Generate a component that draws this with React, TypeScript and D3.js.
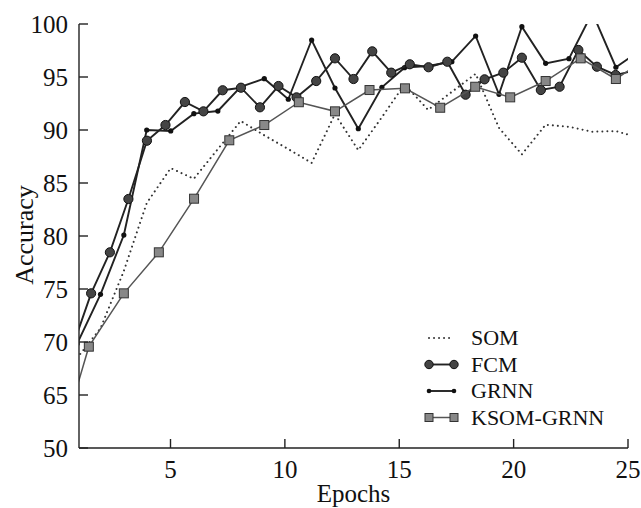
import React, { useEffect, useRef } from 'react';
import * as d3 from 'd3';

// values (epochs are fractional, points are not on integer epochs)
const fcmEpochs = [0.72, 1.53, 2.35, 3.16, 3.97, 4.78, 5.63, 6.44, 7.28, 8.08, 8.91, 9.72, 10.51, 11.37, 12.19, 13.0, 13.82, 14.65, 15.46, 16.28, 17.1, 17.9, 18.73, 19.55, 20.36, 21.19, 22.01, 22.83, 23.64, 24.46, 25.28];
const fcmAccuracy = [69.56, 74.59, 78.46, 83.49, 88.99, 90.47, 92.64, 91.76, 93.75, 93.99, 92.14, 94.15, 93.08, 94.62, 96.76, 94.81, 97.42, 95.41, 96.2, 95.92, 96.44, 93.33, 94.78, 95.41, 96.82, 93.77, 94.08, 97.55, 95.97, 95.19, 95.6];

const grnnEpochs = [0.92, 1.94, 2.96, 3.96, 5.01, 6.02, 7.07, 8.07, 9.1, 10.15, 11.17, 12.19, 13.21, 14.24, 15.23, 16.26, 17.3, 18.34, 19.36, 20.36, 21.4, 22.42, 23.44, 24.47, 25.49];
const grnnAccuracy = [69.84, 74.5, 80.09, 90.0, 89.91, 91.54, 91.79, 94.08, 94.84, 92.9, 98.49, 93.96, 90.12, 94.03, 95.88, 96.04, 96.44, 98.87, 93.37, 99.75, 96.29, 96.73, 101.07, 95.92, 97.45];

// SOM shares the GRNN epochs
const somAccuracy = [68.5, 71.3, 76.7, 83.1, 86.4, 85.4, 88.2, 90.85, 89.5, 88.2, 86.9, 91.5, 88.1, 91.2, 94.3, 91.9, 93.6, 95.3, 90.2, 87.7, 90.5, 90.3, 89.84, 89.9, 89.25];

const ksomEpochs = [0.76, 1.43, 2.96, 4.49, 6.03, 7.57, 9.1, 10.61, 12.19, 13.7, 15.25, 16.79, 18.32, 19.85, 21.4, 22.93, 24.47, 26.0];
const ksomAccuracy = [63.9, 69.56, 74.59, 78.46, 83.52, 89.03, 90.47, 92.62, 91.76, 93.77, 93.93, 92.1, 94.08, 93.08, 94.62, 96.76, 94.81, 97.0];

const xTicks = [5, 10, 15, 20, 25];
const yTicks = [50, 65, 70, 75, 80, 85, 90, 95, 100];
const legendLabels = ['SOM', 'FCM', 'GRNN', 'KSOM-GRNN'];

const FONT = '"Liberation Serif", "Times New Roman", serif';

const App = () => {
  const chartRef = useRef<HTMLDivElement>(null);

  useEffect(() => {
    const root = d3.select(chartRef.current);
    root.selectAll('*').remove();

    const width = 641;
    const height = 508;
    const left = 79, right = 628, top = 24, bottom = 448;

    const svg = root
      .append('svg')
      .attr('width', width)
      .attr('height', height)
      .style('position', 'absolute')
      .style('left', 0)
      .style('top', 0)
      .style('font-family', FONT);

    const x = d3.scaleLinear().domain([1, 25]).range([left, right]);
    // broken axis: 50 sits one step below 65
    const y = d3.scaleLinear().domain([50, 65, 100]).range([bottom, 395, top]);

    svg.append('defs').append('clipPath').attr('id', 'plot-clip')
      .append('rect')
      .attr('x', left).attr('y', top)
      .attr('width', right - left).attr('height', bottom - top);

    const line = d3.line<[number, number]>()
      .x((d) => x(d[0]))
      .y((d) => y(d[1]));

    const plot = svg.append('g').attr('clip-path', 'url(#plot-clip)');

    const som = grnnEpochs.map((e, i) => [e, somAccuracy[i]] as [number, number]);
    const grnn = grnnEpochs.map((e, i) => [e, grnnAccuracy[i]] as [number, number]);
    const fcm = fcmEpochs.map((e, i) => [e, fcmAccuracy[i]] as [number, number]);
    const ksom = ksomEpochs.map((e, i) => [e, ksomAccuracy[i]] as [number, number]);

    // SOM dotted
    plot.append('path')
      .attr('d', line(som))
      .attr('fill', 'none')
      .attr('stroke', '#333')
      .attr('stroke-width', 2)
      .attr('stroke-linecap', 'round')
      .attr('stroke-dasharray', '0.01 5');

    // GRNN
    plot.append('path')
      .attr('d', line(grnn))
      .attr('fill', 'none')
      .attr('stroke', '#222')
      .attr('stroke-width', 1.9);
    plot.selectAll('.grnn-dot').data(grnn).enter().append('circle')
      .attr('cx', (d) => x(d[0]))
      .attr('cy', (d) => y(d[1]))
      .attr('r', 2.6)
      .attr('fill', '#111');

    // FCM
    plot.append('path')
      .attr('d', line(fcm))
      .attr('fill', 'none')
      .attr('stroke', '#222')
      .attr('stroke-width', 1.9);
    plot.selectAll('.fcm-dot').data(fcm).enter().append('circle')
      .attr('cx', (d) => x(d[0]))
      .attr('cy', (d) => y(d[1]))
      .attr('r', 4.6)
      .attr('fill', '#444')
      .attr('stroke', '#111')
      .attr('stroke-width', 1);

    // KSOM-GRNN
    plot.append('path')
      .attr('d', line(ksom))
      .attr('fill', 'none')
      .attr('stroke', '#555')
      .attr('stroke-width', 1.5);
    plot.selectAll('.ksom-sq').data(ksom).enter().append('rect')
      .attr('x', (d) => x(d[0]) - 4.5)
      .attr('y', (d) => y(d[1]) - 4.5)
      .attr('width', 9)
      .attr('height', 9)
      .attr('fill', '#888')
      .attr('stroke', '#333')
      .attr('stroke-width', 1);

    // axes
    const axisColor = '#222';
    svg.append('line')
      .attr('x1', left).attr('x2', left).attr('y1', top).attr('y2', bottom)
      .attr('stroke', axisColor).attr('stroke-width', 1.4);
    svg.append('line')
      .attr('x1', left).attr('x2', right).attr('y1', bottom).attr('y2', bottom)
      .attr('stroke', axisColor).attr('stroke-width', 1.4);

    yTicks.forEach((t) => {
      svg.append('line')
        .attr('x1', left).attr('x2', left + 9)
        .attr('y1', y(t)).attr('y2', y(t))
        .attr('stroke', axisColor).attr('stroke-width', 1.4);
      svg.append('text')
        .attr('x', left - 11)
        .attr('y', y(t))
        .attr('dy', '0.34em')
        .attr('text-anchor', 'end')
        .attr('font-size', 25)
        .attr('fill', '#111')
        .text(t);
    });

    xTicks.forEach((t) => {
      svg.append('line')
        .attr('x1', x(t)).attr('x2', x(t))
        .attr('y1', bottom).attr('y2', bottom - 9)
        .attr('stroke', axisColor).attr('stroke-width', 1.4);
      svg.append('text')
        .attr('x', x(t))
        .attr('y', 478)
        .attr('text-anchor', 'middle')
        .attr('font-size', 25)
        .attr('fill', '#111')
        .text(t);
    });

    svg.append('text')
      .attr('x', (left + right) / 2)
      .attr('y', 502)
      .attr('text-anchor', 'middle')
      .attr('font-size', 25)
      .attr('fill', '#111')
      .text('Epochs');

    svg.append('text')
      .attr('transform', 'translate(33,235) rotate(-90)')
      .attr('text-anchor', 'middle')
      .attr('font-size', 26)
      .attr('fill', '#111')
      .text('Accuracy');

    // legend
    const lg = svg.append('g');
    const rowY = (i: number) => 338 + i * 26.5;
    const x0 = 429, x1 = 454;
    legendLabels.forEach((label, i) => {
      const cy = rowY(i);
      const seg = lg.append('line')
        .attr('x1', x0).attr('x2', x1).attr('y1', cy).attr('y2', cy);
      if (i === 0) {
        seg.attr('stroke', '#333').attr('stroke-width', 2)
          .attr('stroke-linecap', 'round').attr('stroke-dasharray', '0.01 5');
      } else if (i === 3) {
        seg.attr('stroke', '#555').attr('stroke-width', 1.5);
      } else {
        seg.attr('stroke', '#222').attr('stroke-width', 1.9);
      }
      [x0, x1].forEach((mx) => {
        if (i === 1) {
          lg.append('circle').attr('cx', mx).attr('cy', cy).attr('r', 4.2)
            .attr('fill', '#444').attr('stroke', '#111');
        } else if (i === 2) {
          lg.append('circle').attr('cx', mx).attr('cy', cy).attr('r', 2.3).attr('fill', '#111');
        } else if (i === 3) {
          lg.append('rect').attr('x', mx - 4).attr('y', cy - 4).attr('width', 8).attr('height', 8)
            .attr('fill', '#888').attr('stroke', '#333');
        }
      });
      lg.append('text')
        .attr('x', 471)
        .attr('y', cy)
        .attr('dy', '0.34em')
        .attr('font-size', 22)
        .attr('fill', '#111')
        .text(label);
    });
  }, []);

  return <div ref={chartRef}></div>;
};

export default App;
